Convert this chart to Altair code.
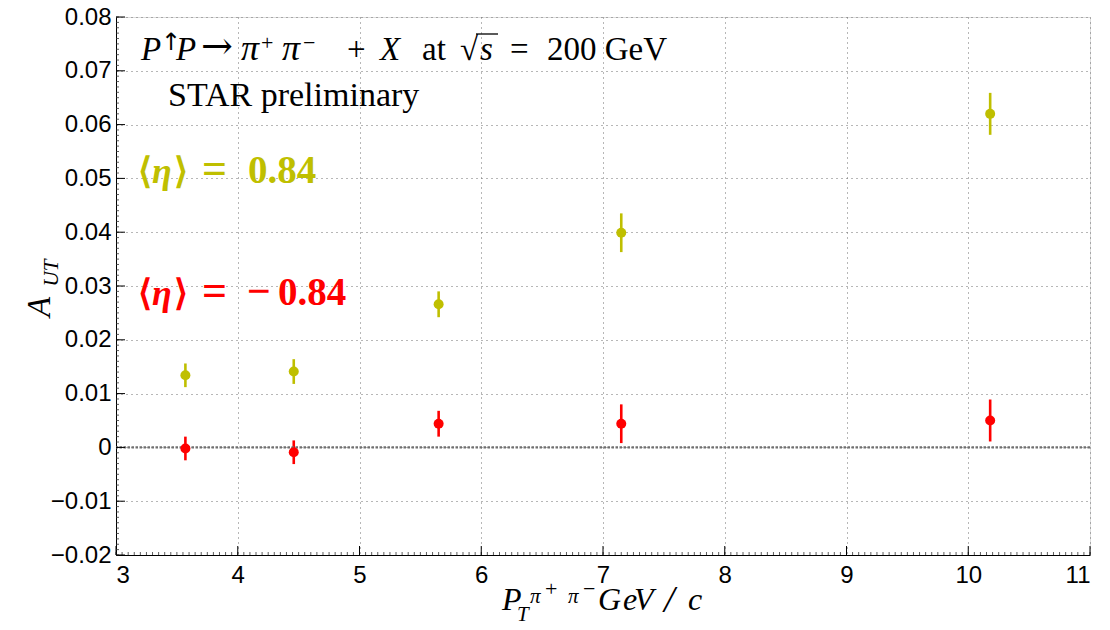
import altair as alt
import pandas as pd

# Transverse momentum of the pion pair (GeV/c) and measured asymmetries
pt = [3.57, 4.46, 5.65, 7.15, 10.18]
aut_fwd = [0.0134, 0.0141, 0.0266, 0.0399, 0.0620]
err_fwd = [0.0022, 0.0023, 0.0024, 0.0036, 0.0039]
aut_bwd = [-0.0002, -0.0009, 0.0044, 0.0044, 0.0050]
err_bwd = [0.0022, 0.0022, 0.0024, 0.0036, 0.0039]

series = ["eta_pos", "eta_neg"]
series_colors = ["#BFBF00", "#FF0000"]

x_ticks = [3, 4, 5, 6, 7, 8, 9, 10, 11]
y_ticks = [-0.02, -0.01, 0.0, 0.01, 0.02, 0.03, 0.04, 0.05, 0.06, 0.07, 0.08]

W, H = 974, 538

rows = []
for name, vals, errs in [(series[0], aut_fwd, err_fwd), (series[1], aut_bwd, err_bwd)]:
    for x, y, e in zip(pt, vals, errs):
        rows.append({"series": name, "pt": x, "aut": y, "lo": y - e, "hi": y + e})
df = pd.DataFrame(rows)

xs = alt.Scale(domain=[3, 11], nice=False, zero=False)
ys = alt.Scale(domain=[-0.02, 0.08], nice=False, zero=False)
color = alt.Color("series:N", scale=alt.Scale(domain=series, range=series_colors), legend=None)

grid_axis = dict(grid=True, gridColor="#6e6e6e", gridDash=[1, 4], gridWidth=1,
                 domainColor="black", domainWidth=1, ticks=False,
                 labelFont="Liberation Sans", labelFontSize=24, labelColor="black",
                 title=None)

x_axis = alt.Axis(values=x_ticks, format="d", labelPadding=8, **grid_axis)
y_axis = alt.Axis(values=y_ticks, format=".2~f", labelPadding=5, **grid_axis)

errbars = alt.Chart(df).mark_rule(strokeWidth=2.6).encode(
    x=alt.X("pt:Q", scale=xs, axis=x_axis),
    y=alt.Y("lo:Q", scale=ys, axis=y_axis),
    y2="hi:Q",
    color=color,
)

points = alt.Chart(df).mark_circle(size=100, opacity=1).encode(
    x=alt.X("pt:Q", scale=xs),
    y=alt.Y("aut:Q", scale=ys),
    color=color,
)

zero_line = alt.Chart(pd.DataFrame({"y": [0.0]})).mark_rule(
    color="#707070", strokeWidth=2.2, strokeDash=[2.5, 1.5]
).encode(y=alt.Y("y:Q", scale=ys))

# Inward ticks along the bottom and left axes
x_minor = [round(3 + i * 0.05, 2) for i in range(161)]
y_minor = [round(-0.02 + i * 0.001, 3) for i in range(101)]

x_minor_ticks = alt.Chart(pd.DataFrame({"v": x_minor})).mark_rule(color="#333", strokeWidth=0.8).encode(
    x=alt.X("v:Q", scale=xs), y=alt.value(H), y2=alt.value(H - 3))
x_major_ticks = alt.Chart(pd.DataFrame({"v": x_ticks})).mark_rule(color="black", strokeWidth=1).encode(
    x=alt.X("v:Q", scale=xs), y=alt.value(H), y2=alt.value(H - 9))
y_minor_ticks = alt.Chart(pd.DataFrame({"v": y_minor})).mark_rule(color="#333", strokeWidth=0.8).encode(
    y=alt.Y("v:Q", scale=ys), x=alt.value(0), x2=alt.value(3))
y_major_ticks = alt.Chart(pd.DataFrame({"v": y_ticks})).mark_rule(color="black", strokeWidth=1).encode(
    y=alt.Y("v:Q", scale=ys), x=alt.value(0), x2=alt.value(9))


def label(txt, x, y, size, color="black", italic=False, bold=False, angle=0,
          align="left", baseline="alphabetic", font="Liberation Serif"):
    return alt.Chart(pd.DataFrame({"t": [txt]})).mark_text(
        align=align, baseline=baseline, font=font, fontSize=size,
        fontStyle="italic" if italic else "normal",
        fontWeight="bold" if bold else "normal",
        color=color, angle=angle,
    ).encode(x=alt.value(x), y=alt.value(y), text="t:N")


TS = 33   # title math size
SS = 22   # superscript size
tb = 43   # title baseline
title_parts = [
    label("P", 25, tb, TS, italic=True),
    label("\u2191", 45, tb - 10, 24, font="DejaVu Sans"),
    label("P", 60, tb, TS, italic=True),
    label("\u2192", 85, tb - 1, 38, font="DejaVu Serif"),
    label("\u03c0", 125, tb, 36, italic=True),
    label("+", 145, tb - 10, SS),
    label("\u03c0", 166, tb, 36, italic=True),
    label("\u2212", 187, tb - 10, SS),
    label("+", 231, tb, TS),
    label("X", 264, tb, TS, italic=True),
    label("at", 306, tb, TS),
    label("\u221a", 344, tb, TS),
    label("s", 364, tb, TS, italic=True),
    label("=", 394, tb, TS),
    label("200 GeV", 431, tb, TS),
]
# overline of the square root
radical_bar = alt.Chart(pd.DataFrame({"t": [0]})).mark_rule(color="black", strokeWidth=1.3).encode(
    x=alt.value(360), x2=alt.value(382), y=alt.value(17))

ES = 36  # eta label size
eta_parts = []
for col, base, neg in [(series_colors[0], 166, False), (series_colors[1], 288, True)]:
    eta_parts += [
        label("\u27e8", 22, base, ES, color=col, bold=True),
        label("\u03b7", 36, base, ES, color=col, bold=True, italic=True),
        label("\u27e9", 58, base, ES, color=col, bold=True),
        label("=", 86, base, 44, color=col, bold=True),
    ]
    if neg:
        eta_parts += [label("\u2212", 131, base, 42, color=col, bold=True),
                      label("0.84", 162, base, 39, color=col, bold=True)]
    else:
        eta_parts += [label("0.84", 132, base, 39, color=col, bold=True)]

axis_titles = [
    # x-axis title: P_T^{pi+pi-} GeV/c
    label("P", 386, 593, 32, italic=True),
    label("T", 401, 604, 21, italic=True),
    label("\u03c0", 414, 586, 21, italic=True),
    label("+", 429, 579, 22),
    label("\u03c0", 452, 586, 21, italic=True),
    label("\u2212", 467, 579, 22),
    label("G", 482, 593, 32, italic=True),
    label("e", 507, 593, 32, italic=True),
    label("V", 518, 593, 32, italic=True),
    label("/", 548, 595, 38, italic=True),
    label("c", 572, 593, 32, italic=True),
    # y-axis title: A_UT
    label("A", -66, 290, 33, italic=True, angle=270, align="center"),
    label("UT", -58, 256, 21, italic=True, angle=270, align="center"),
]

chart = alt.layer(
    errbars, zero_line, x_minor_ticks, x_major_ticks, y_minor_ticks, y_major_ticks,
    points, radical_bar,
    label("STAR preliminary", 52, 89, 34),
    *title_parts, *eta_parts, *axis_titles
).properties(
    width=W, height=H,
    autosize=alt.AutoSizeParams(type="none"),
    padding={"left": 116, "top": 17, "right": 20, "bottom": 75},
).configure_view(stroke=None).configure(background="white")

chart.save("out.html", embed_options={"renderer": "svg", "actions": False})
